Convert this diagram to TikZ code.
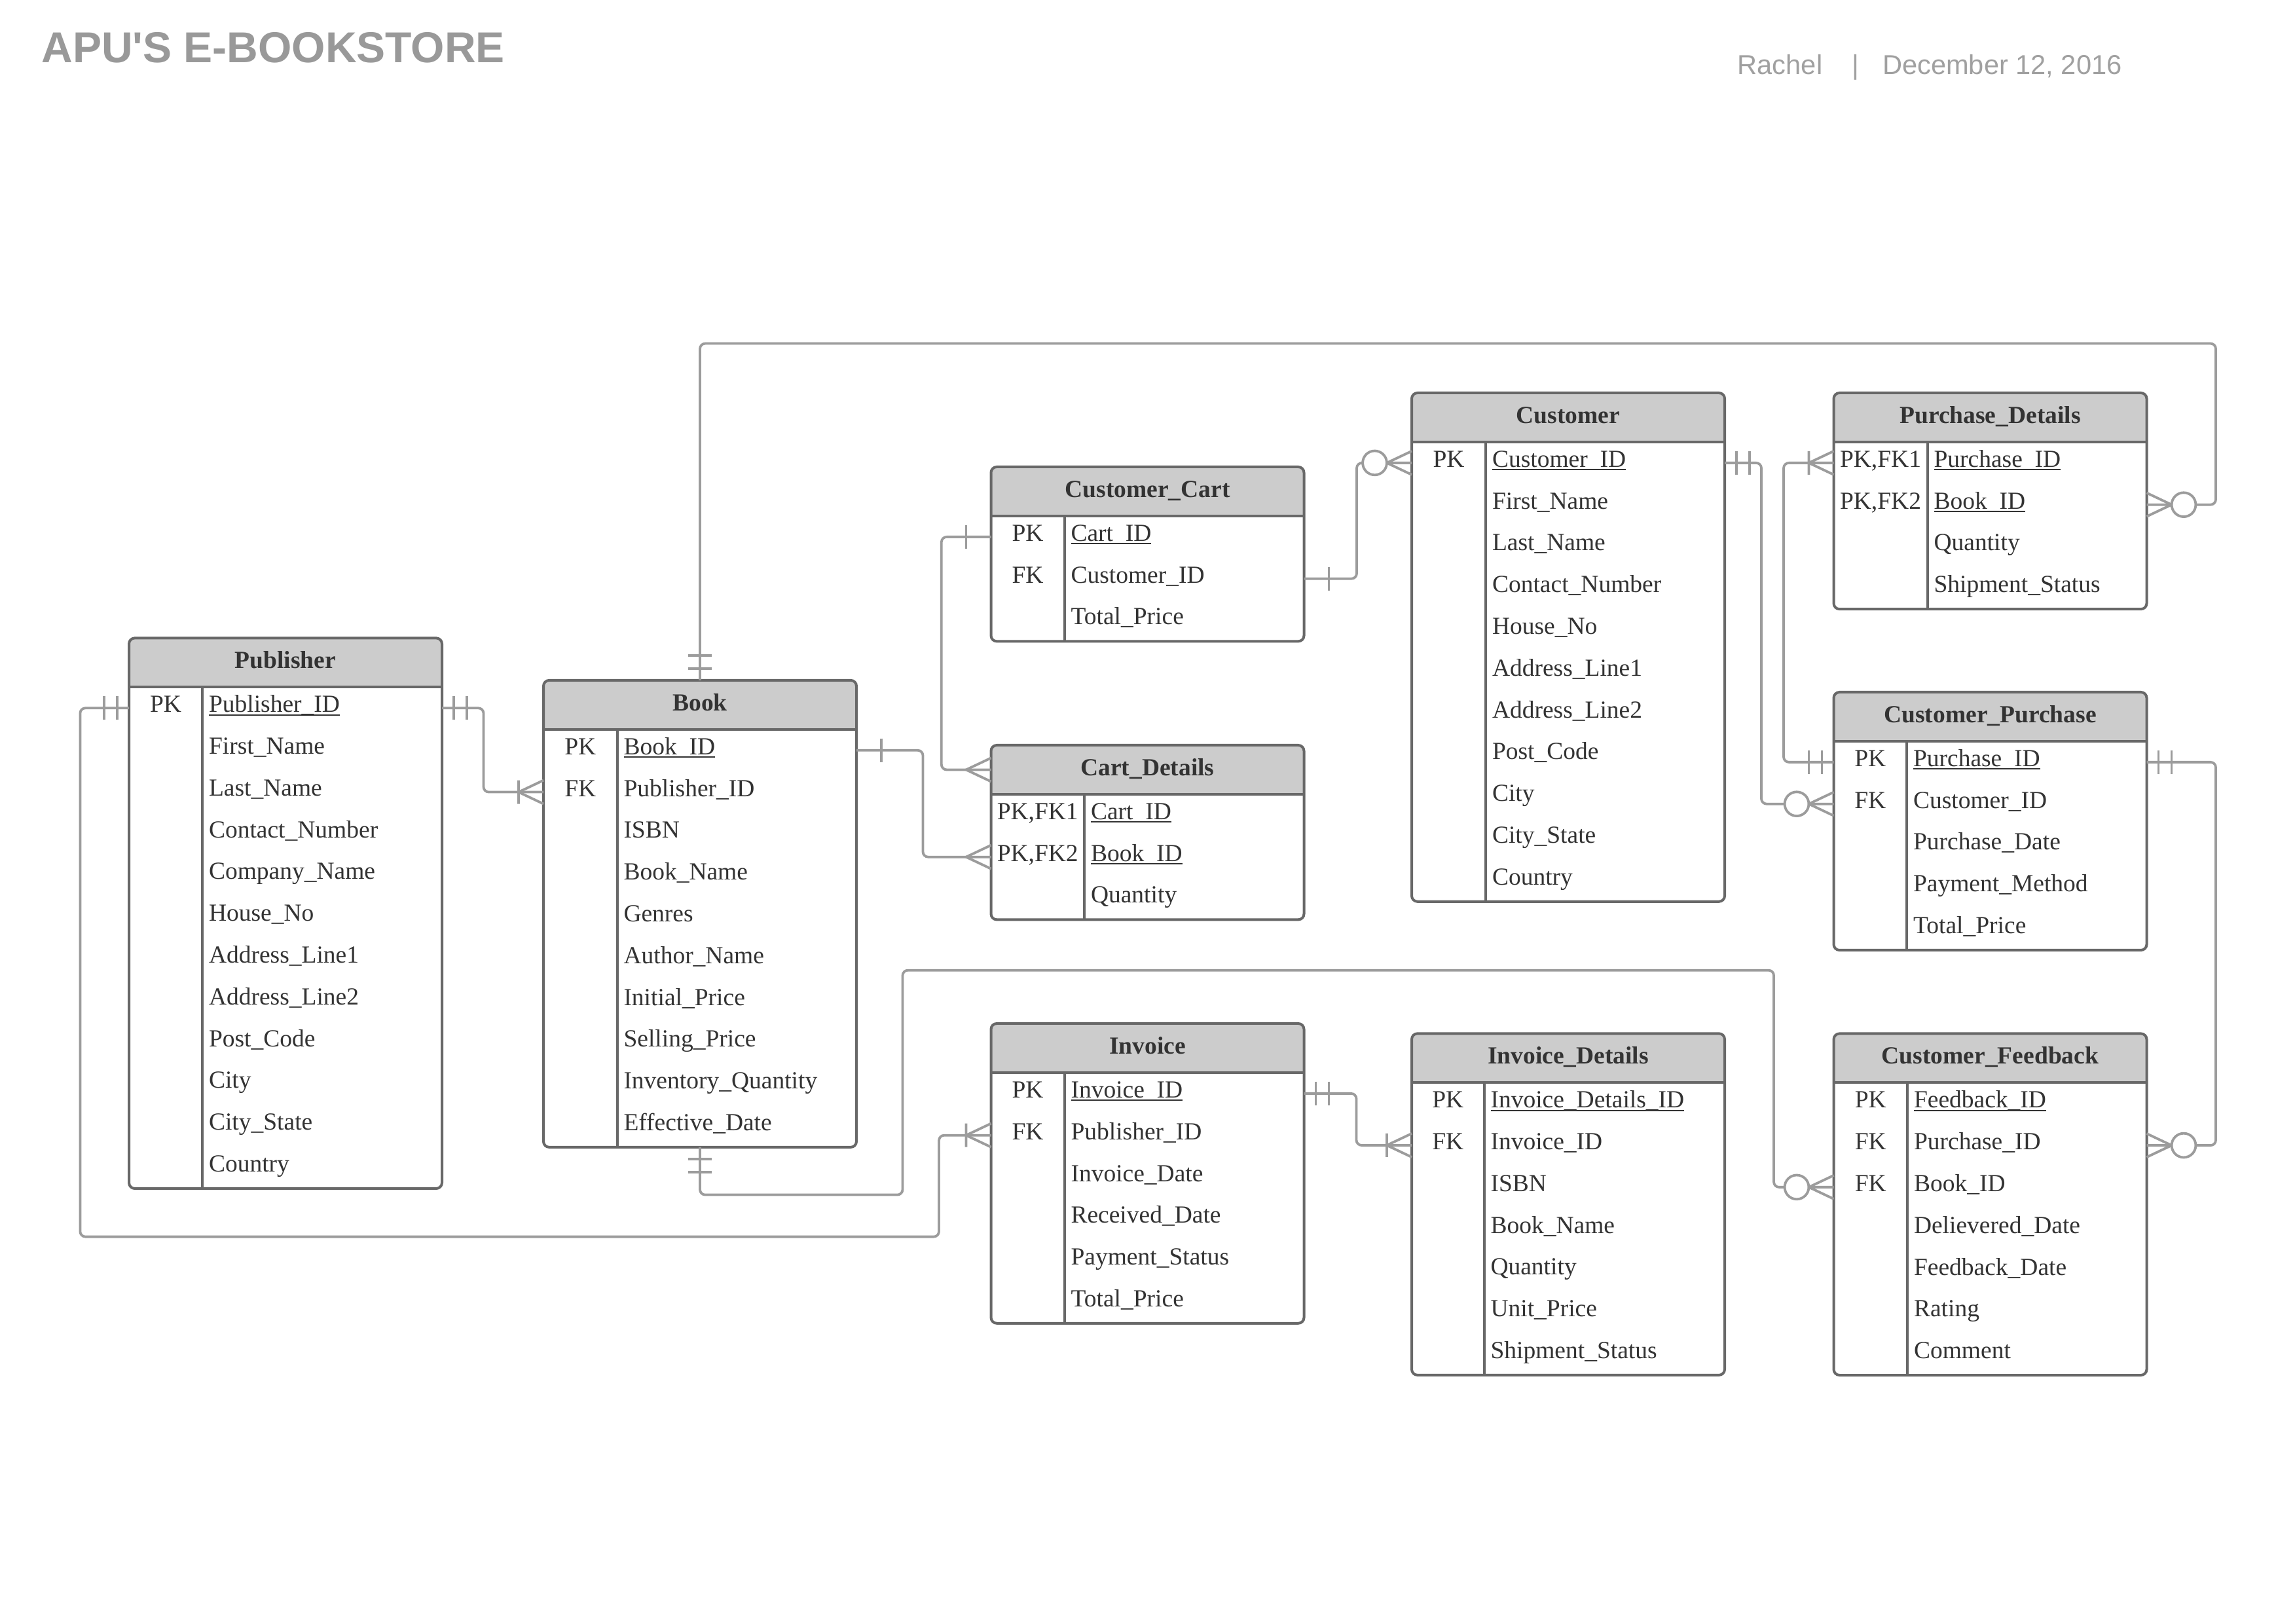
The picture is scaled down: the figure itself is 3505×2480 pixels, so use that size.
\documentclass[tikz,border=0pt]{standalone}
\usepackage{fontspec}
\setmainfont{Liberation Serif}
\newfontfamily\titlefont{Liberation Sans}
\usetikzlibrary{calc}
\definecolor{hdrgray}{HTML}{CCCCCC}
\definecolor{bordergray}{HTML}{686868}
\definecolor{txtgray}{HTML}{333333}
\definecolor{conngray}{HTML}{9C9C9C}
\definecolor{titlegray}{HTML}{999999}
\definecolor{dategray}{HTML}{A0A0A0}
\tikzset{
 tabline/.style={draw=bordergray,line width=1pt},
 conn/.style={draw=conngray,line width=0.95pt,rounded corners=2pt},
 sym/.style={draw=conngray,line width=0.95pt},
 rowbox/.style={inner sep=0pt,outer sep=0pt,minimum width=119.5pt,minimum height=15.95pt},
 hdrbox/.style={inner sep=0pt,outer sep=0pt,minimum width=119.5pt,minimum height=18.75pt},
 tabbox/.style={inner sep=0pt,outer sep=0pt,minimum width=119.5pt},
 celltxt/.style={inner sep=0pt,outer sep=0pt,text=txtgray,font={\fontsize{9.375}{11}\selectfont}},
 keytxt/.style={celltxt,anchor=base},
 attrtxt/.style={celltxt,anchor=base west},
 hdrtxt/.style={celltxt,anchor=base,font={\fontsize{9.375}{11}\selectfont\bfseries}},
 uline/.style={draw=txtgray,line width=0.5pt},
}
% #1 id, #2 left, #3 top, #4 divider offset, #5 title, #6 rows, #7 row list
\newcommand\ertab[7]{%
 \pgfmathsetmacro\tabR{#2+478}%
 \pgfmathsetmacro\tabH{#3+75}%
 \pgfmathsetmacro\tabB{#3+75+#6*63.8}%
 \pgfmathsetmacro\tabD{#2+#4}%
 \fill[hdrgray,rounded corners=2.2pt] (#2,#3) rectangle (\tabR,\tabH+20);
 \fill[white,rounded corners=2.2pt] (#2,\tabH) rectangle (\tabR,\tabB);
 \fill[white] (#2,\tabH) rectangle (\tabR,\tabH+20);
 \node[tabbox,anchor=north west,minimum height={(75+#6*63.8)*0.25pt}] (#1) at (#2,#3) {};
 \node[hdrbox,anchor=north west] (#1-h) at (#2,#3) {};
 \draw[tabline] (#2,\tabH) -- (\tabR,\tabH) (\tabD,\tabH) -- (\tabD,\tabB);
 \draw[tabline,rounded corners=2.2pt] (#2,#3) rectangle (\tabR,\tabB);
 \node[hdrtxt] (#1-t) at ({#2+239},{#3+37.5+9}) {#5};
 \foreach \ekey/\eatt/\eul [count=\i] in {#7} {%
   \pgfmathsetmacro\ry{#3+75+31.9+(\i-1)*63.8}
   \node[rowbox,anchor=west] (#1-\i) at (#2,\ry) {};
   \node[keytxt] (#1-\i-k) at ({#2+#4/2},{\ry+6.5}) {\ekey};
   \node[attrtxt] (#1-\i-a) at ({\tabD+10},{\ry+6.5}) {\eatt};
   \ifnum\eul=1 \draw[uline] ([yshift=-1pt]#1-\i-a.base west) -- ([yshift=-1pt]#1-\i-a.base east);\fi
 }%
}
\newcommand\symOne[2]{\begin{scope}[shift={(#1)},rotate=#2]\draw[sym] (18,-18) -- (18,18) (38,-18) -- (38,18);\end{scope}}
\newcommand\symBar[2]{\begin{scope}[shift={(#1)},rotate=#2]\draw[sym] (38,-18) -- (38,18);\end{scope}}
\newcommand\symCrow[2]{\begin{scope}[shift={(#1)},rotate=#2]\draw[sym] (0,-18) -- (38,0) -- (0,18);\end{scope}}
\newcommand\symCrowBar[2]{\begin{scope}[shift={(#1)},rotate=#2]\draw[sym] (0,-18) -- (38,0) -- (0,18) (38,-18) -- (38,18);\end{scope}}
\newcommand\symCrowO[2]{\begin{scope}[shift={(#1)},rotate=#2]\draw[sym] (0,-18) -- (38,0) -- (0,18);\draw[sym,fill=white] (56.5,0) circle[radius=4.6pt];\end{scope}}
\begin{document}
\begin{tikzpicture}[x=0.25pt,y=-0.25pt]
\useasboundingbox (0,0) rectangle (3505,2480);
\fill[white] (0,0) rectangle (3505,2480);
\node[anchor=base west,inner sep=0pt,text=titlegray,font={\titlefont\bfseries\fontsize{16.5}{20}\selectfont}] (title) at (62.6,96) {APU'S E-BOOKSTORE};
\node[anchor=base west,inner sep=0pt,text=dategray,font={\titlefont\fontsize{10.4}{12}\selectfont}] (author) at (2653,113.3) {Rachel};
\node[anchor=base,inner sep=0pt,text=dategray,font={\titlefont\fontsize{10.4}{12}\selectfont}] (sep) at (2834,113.3) {|};
\node[anchor=base west,inner sep=0pt,text=dategray,font={\titlefont\fontsize{10.4}{12}\selectfont}] (date) at (2874.4,113.3) {December 12, 2016};

\ertab{pub}{197}{974.4}{112}{Publisher}{12}{PK/Publisher\_ID/1, /First\_Name/0, /Last\_Name/0, /Contact\_Number/0, /Company\_Name/0, /House\_No/0, /Address\_Line1/0, /Address\_Line2/0, /Post\_Code/0, /City/0, /City\_State/0, /Country/0}
\ertab{book}{830}{1038.9}{112.5}{Book}{10}{PK/Book\_ID/1, FK/Publisher\_ID/0, /ISBN/0, /Book\_Name/0, /Genres/0, /Author\_Name/0, /Initial\_Price/0, /Selling\_Price/0, /Inventory\_Quantity/0, /Effective\_Date/0}
\ertab{cc}{1513.5}{713}{112}{Customer\_Cart}{3}{PK/Cart\_ID/1, FK/Customer\_ID/0, /Total\_Price/0}
\ertab{cd}{1513.5}{1138}{142.5}{Cart\_Details}{3}{{PK,FK1}/Cart\_ID/1, {PK,FK2}/Book\_ID/1, /Quantity/0}
\ertab{inv}{1513.5}{1563}{112}{Invoice}{6}{PK/Invoice\_ID/1, FK/Publisher\_ID/0, /Invoice\_Date/0, /Received\_Date/0, /Payment\_Status/0, /Total\_Price/0}
\ertab{cu}{2156}{600}{113}{Customer}{11}{PK/Customer\_ID/1, /First\_Name/0, /Last\_Name/0, /Contact\_Number/0, /House\_No/0, /Address\_Line1/0, /Address\_Line2/0, /Post\_Code/0, /City/0, /City\_State/0, /Country/0}
\ertab{id}{2156}{1578.3}{110.5}{Invoice\_Details}{7}{PK/Invoice\_Details\_ID/1, FK/Invoice\_ID/0, /ISBN/0, /Book\_Name/0, /Quantity/0, /Unit\_Price/0, /Shipment\_Status/0}
\ertab{pd}{2800.5}{600}{143}{Purchase\_Details}{4}{{PK,FK1}/Purchase\_ID/1, {PK,FK2}/Book\_ID/1, /Quantity/0, /Shipment\_Status/0}
\ertab{cp}{2800.5}{1057}{111.5}{Customer\_Purchase}{5}{PK/Purchase\_ID/1, FK/Customer\_ID/0, /Purchase\_Date/0, /Payment\_Method/0, /Total\_Price/0}
\ertab{cf}{2800.5}{1578.4}{112.5}{Customer\_Feedback}{7}{PK/Feedback\_ID/1, FK/Purchase\_ID/0, FK/Book\_ID/0, /Delievered\_Date/0, /Feedback\_Date/0, /Rating/0, /Comment/0}

% connectors
\draw[conn] (pub-1.east) -- ++(63.5,0) |- (book-2.west);
\draw[conn] (pub-1.west) -| (122.4,1888.6) -| (1434,0 |- inv-2.west) -- (inv-2.west);
\draw[conn] (book.north) |- (3384,524.6) |- (pd-2.east);
\draw[conn] (book.south) |- (1378.5,1824.6) |- (2709,1481.7) |- (cf-3.west);
\draw[conn] (book-1.east) -- ++(101.5,0) |- (cd-2.west);
\draw[conn] (cc-1.west) -- ++(-75.7,0) |- (cd-h.west);
\draw[conn] (cc-2.east) -- ++(80.5,0) |- (cu-1.west);
\draw[conn] (cu-1.east) -- ++(56,0) |- (cp-2.west);
\draw[conn] (pd-1.west) -- ++(-76.5,0) |- (cp-1.west);
\draw[conn] (cp-1.east) -- ++(105.5,0) |- (cf-2.east);
\draw[conn] (inv-1.east) -- ++(80,0) |- (id-2.west);

% end symbols
\symOne{pub-1.east}{0} \symCrowBar{book-2.west}{180}
\symOne{pub-1.west}{180} \symCrowBar{inv-2.west}{180}
\symOne{book.north}{90} \symCrowO{pd-2.east}{0}
\symOne{book.south}{-90} \symCrowO{cf-3.west}{180}
\symBar{book-1.east}{0} \symCrow{cd-2.west}{180}
\symBar{cc-1.west}{180} \symCrow{cd-h.west}{180}
\symBar{cc-2.east}{0} \symCrowO{cu-1.west}{180}
\symOne{cu-1.east}{0} \symCrowO{cp-2.west}{180}
\symCrowBar{pd-1.west}{180} \symOne{cp-1.west}{180}
\symOne{cp-1.east}{0} \symCrowO{cf-2.east}{0}
\symOne{inv-1.east}{0} \symCrowBar{id-2.west}{180}
\end{tikzpicture}
\end{document}
